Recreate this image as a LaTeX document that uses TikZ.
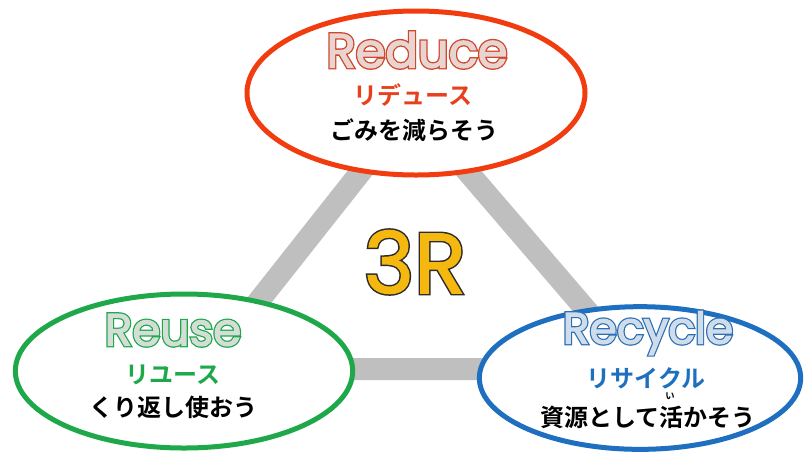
\documentclass[tikz,border=0pt]{standalone}
\usepackage{fontspec}
\usetikzlibrary{shapes.geometric}
\newfontfamily\jp{Noto Sans CJK JP Bold}
\newfontfamily\rndf{Poppins}[FakeBold=2.5]
\newfontfamily\rndo{Poppins}[FakeBold=8]
\newfontfamily\bigf{Poppins}[FakeBold=1.5]
\newfontfamily\bigo{Poppins}[FakeBold=5]
\definecolor{redc}{HTML}{F03C0F}
\definecolor{redt}{HTML}{E8401C}
\definecolor{redfill}{HTML}{E8D4D0}
\definecolor{redline}{HTML}{D2462A}
\definecolor{greenc}{HTML}{1FA84A}
\definecolor{greenfill}{HTML}{D4DED6}
\definecolor{bluec}{HTML}{1E6FBF}
\definecolor{bluefill}{HTML}{CFDDEA}
\definecolor{blueline}{HTML}{2C6FB5}
\definecolor{trigray}{HTML}{BFBFBF}
\definecolor{amber}{HTML}{F5B80F}
\definecolor{darkline}{HTML}{2B2B2B}
\newcommand\otext[4]{\makebox[0pt][l]{\rndo\fontsize{#1}{#1}\selectfont\color{#3}#4}{\rndf\fontsize{#1}{#1}\selectfont\color{#2}#4}}
\newcommand\obig[4]{\makebox[0pt][l]{\bigo\fontsize{#1}{#1}\selectfont\color{#3}#4}{\bigf\fontsize{#1}{#1}\selectfont\color{#2}#4}}
\tikzset{
  tri/.style={draw=trigray, line width=16.5pt},
  bubble/.style={ellipse, draw, fill=white, line width=3.75pt, inner sep=0pt},
  jptxt/.style={font=\jp\fontsize{18}{18}\selectfont, inner sep=0pt},
  ttl/.style={inner sep=0pt}
}
\begin{document}
\begin{tikzpicture}[x=0.75pt,y=-0.75pt]
\useasboundingbox (0,0) rectangle (809,455);
\fill[white] (0,0) rectangle (809,455);
\coordinate (tA) at (412,107);
\coordinate (tB) at (205,369);
\coordinate (tC) at (637,369);
\draw[tri] (tA) -- (tB) -- (tC) -- cycle;
\node[bubble, draw=redc, minimum width=253.5pt, minimum height=123pt] (reduce) at (416,93) {};
\node[bubble, draw=greenc, minimum width=253pt, minimum height=115.5pt] (reuse) at (184,371) {};
\node[bubble, draw=bluec, minimum width=241pt, minimum height=107pt] (recycle) at (640,378) {};
\node[ttl] (t3r) at (415,262) {\obig{64}{amber}{darkline}{3R}};
\node[ttl] (t1) at (417,50) {\otext{36}{redfill}{redline}{Reduce}};
\node[jptxt, text=redt] (k1) at (413,95) {リデュース};
\node[jptxt] (j1) at (414,130) {ごみを減らそう};
\node[ttl] (t2) at (173,330) {\otext{34}{greenfill}{greenc}{Reuse}};
\node[jptxt, text=greenc] (k2) at (173,375) {リユース};
\node[jptxt] (j2) at (173,407) {くり返し使おう};
\node[ttl] (t3) at (648,333) {\otext{33}{bluefill}{blueline}{Recycle}};
\node[jptxt, text=bluec] (k3) at (646,378) {リサイクル};
\node[jptxt] (j3) at (648,417) {資源として活かそう};
\node[font=\jp\fontsize{7}{7}\selectfont, inner sep=0pt] (ruby) at (670,396) {い};
\end{tikzpicture}
\end{document}
